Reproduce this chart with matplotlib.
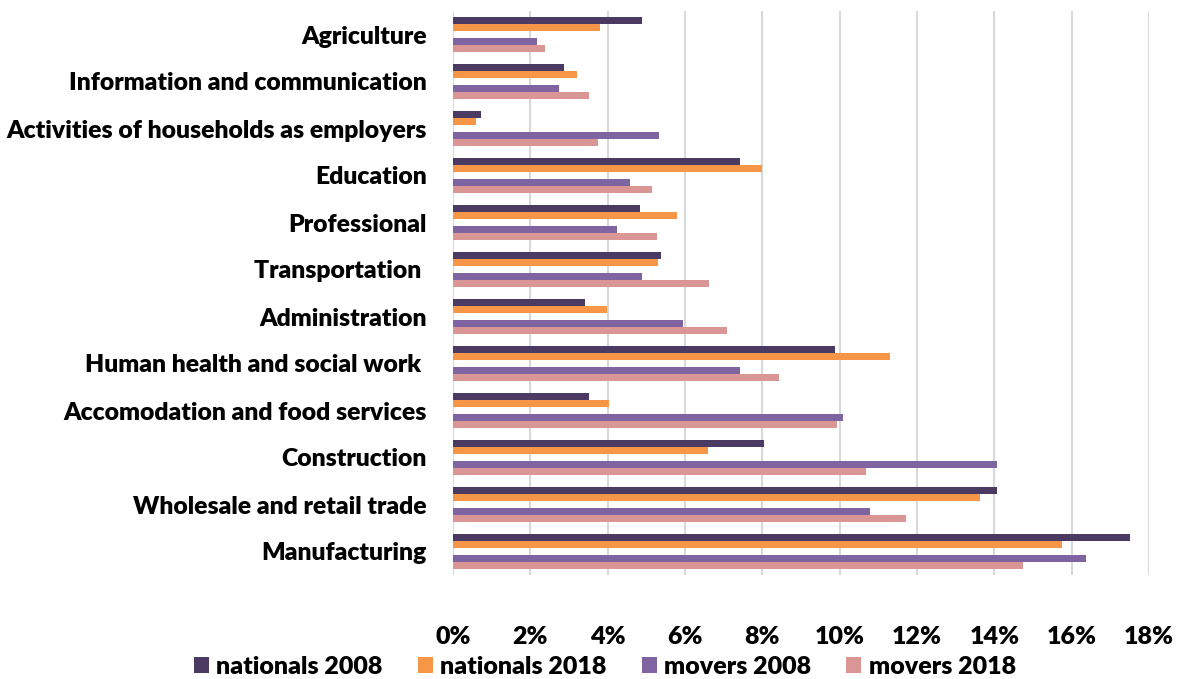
import numpy as np
import matplotlib
matplotlib.use('Agg')
import matplotlib.pyplot as plt
from matplotlib.ticker import FuncFormatter

# ── data (shares of employment, %) ──
sectors = ['Agriculture', 'Information and communication',
           'Activities of households as employers', 'Education',
           'Professional', 'Transportation ', 'Administration',
           'Human health and social work ', 'Accomodation and food services',
           'Construction', 'Wholesale and retail trade', 'Manufacturing']

nationals_2008 = [4.88, 2.87, 0.72, 7.42, 4.83, 5.37, 3.41, 9.89, 3.53, 8.04, 14.07, 17.50]
nationals_2018 = [3.81, 3.20, 0.59, 7.98, 5.79, 5.29, 3.98, 11.29, 4.04, 6.60, 13.64, 15.75]
movers_2008    = [2.16, 2.74, 5.32, 4.57, 4.23, 4.88, 5.96, 7.41, 10.08, 14.08, 10.78, 16.38]
movers_2018    = [2.39, 3.52, 3.76, 5.14, 5.28, 6.61, 7.08, 8.42, 9.92, 10.67, 11.72, 14.73]

series_names = ['nationals 2008', 'nationals 2018', 'movers 2008', 'movers 2018']
colors = ['#4B3B63', '#F79646', '#8064A2', '#D99694']

plt.rcParams['font.family'] = ['Lato', 'DejaVu Sans']
plt.rcParams['font.weight'] = 'bold'

fig = plt.figure(figsize=(11.81, 6.79), dpi=100)
ax = fig.add_axes([453 / 1181, 1 - 575 / 679, (1149 - 453) / 1181, (575 - 11) / 679])

y = np.arange(len(sectors))
h = 7 / 47
offsets = [-2 * h, -1 * h, 1 * h, 2 * h]   # empty slot in the middle
data = [nationals_2008, nationals_2018, movers_2008, movers_2018]

for vals, off, col, name in zip(data, offsets, colors, series_names):
    ax.barh(y + off, vals, height=h, color=col, label=name, zorder=3)

ax.set_ylim(len(sectors) - 0.5, -0.5)
ax.set_xlim(0, 18)
ax.set_xticks(np.arange(0, 19, 2))
ax.xaxis.set_major_formatter(FuncFormatter(lambda v, p: f'{v:.0f}%'))
ax.set_yticks(y)
ax.set_yticklabels(sectors)

ax.grid(axis='x', color='#D9D9D9', linewidth=1.5, zorder=0)
for s in ax.spines.values():
    s.set_visible(False)
ax.tick_params(axis='x', length=0, pad=37, labelsize=18)
ax.tick_params(axis='y', length=0, pad=19, labelsize=17.8)
for lbl in ax.get_xticklabels() + ax.get_yticklabels():
    lbl.set_fontweight('heavy')

fig.legend(loc='center', bbox_to_anchor=(605 / 1181, 1 - 667 / 679), ncol=4,
           frameon=False, handlelength=0.6, handleheight=0.6,
           handletextpad=0.3, columnspacing=1.4,
           prop={'weight': 'heavy', 'size': 18})

fig.savefig('out.png', dpi=100)
